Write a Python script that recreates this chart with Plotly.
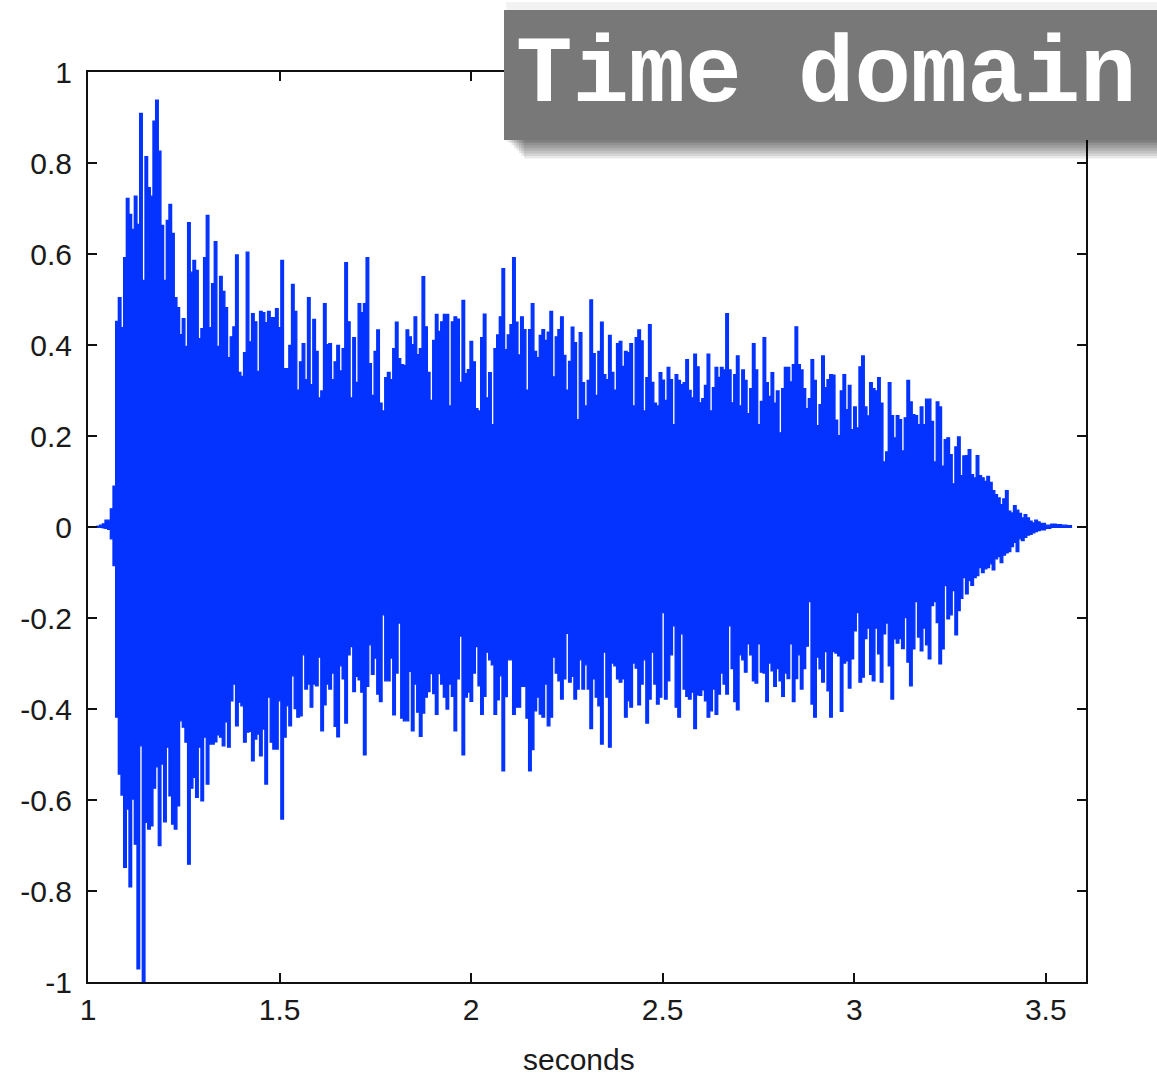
import numpy as np
import plotly.graph_objects as go

# ---------------- data ----------------
# Peak envelope of the waveform, one value per display bin.
BIN_START = 0.99571      # time of the first bin's left edge (s)
BIN_WIDTH = 0.006954     # bin width (s)

upper = [
    0.001, 0.001, 0.001, 0.001, 0.002, 0.004, 0.007, 0.015, 0.015, 0.040, 0.090,
    0.452, 0.504, 0.438, 0.592, 0.722, 0.687, 0.654, 0.727, 0.665, 0.909,
    0.542, 0.814, 0.746, 0.727, 0.892, 0.938, 0.826, 0.663, 0.542, 0.674,
    0.709, 0.645, 0.504, 0.482, 0.423, 0.458, 0.397, 0.669, 0.560, 0.586,
    0.564, 0.414, 0.436, 0.592, 0.685, 0.438, 0.535, 0.627, 0.397, 0.551,
    0.518, 0.482, 0.372, 0.418, 0.440, 0.598, 0.340, 0.331, 0.383, 0.604,
    0.407, 0.469, 0.451, 0.342, 0.474, 0.471, 0.449, 0.474, 0.460, 0.460,
    0.480, 0.438, 0.586, 0.348, 0.348, 0.399, 0.533, 0.474, 0.301, 0.363,
    0.403, 0.324, 0.504, 0.313, 0.456, 0.386, 0.284, 0.299, 0.491, 0.401,
    0.403, 0.324, 0.363, 0.399, 0.343, 0.392, 0.581, 0.451, 0.284, 0.416,
    0.318, 0.491, 0.471, 0.491, 0.592, 0.359, 0.289, 0.386, 0.433, 0.272,
    0.255, 0.328, 0.340, 0.324, 0.392, 0.450, 0.370, 0.357, 0.355, 0.433,
    0.418, 0.401, 0.462, 0.379, 0.392, 0.550, 0.440, 0.340, 0.278, 0.410,
    0.467, 0.430, 0.451, 0.467, 0.467, 0.266, 0.451, 0.462, 0.457, 0.318,
    0.498, 0.337, 0.346, 0.408, 0.363, 0.260, 0.255, 0.416, 0.468, 0.284,
    0.339, 0.225, 0.392, 0.422, 0.462, 0.568, 0.390, 0.422, 0.445, 0.592,
    0.450, 0.378, 0.462, 0.434, 0.301, 0.434, 0.491, 0.386, 0.372, 0.421,
    0.434, 0.410, 0.428, 0.474, 0.330, 0.418, 0.434, 0.462, 0.377, 0.301,
    0.364, 0.439, 0.405, 0.236, 0.427, 0.317, 0.266, 0.322, 0.499, 0.381,
    0.289, 0.386, 0.450, 0.335, 0.324, 0.421, 0.340, 0.301, 0.403, 0.408,
    0.353, 0.386, 0.383, 0.403, 0.266, 0.416, 0.433, 0.409, 0.255, 0.328,
    0.445, 0.318, 0.272, 0.266, 0.339, 0.323, 0.278, 0.351, 0.324, 0.225,
    0.335, 0.322, 0.313, 0.317, 0.368, 0.300, 0.284, 0.380, 0.352, 0.273,
    0.282, 0.311, 0.380, 0.255, 0.306, 0.351, 0.329, 0.351, 0.345, 0.469,
    0.345, 0.273, 0.335, 0.376, 0.266, 0.345, 0.322, 0.249, 0.304, 0.403,
    0.345, 0.225, 0.276, 0.416, 0.317, 0.287, 0.339, 0.272, 0.299, 0.207,
    0.304, 0.351, 0.351, 0.319, 0.357, 0.440, 0.357, 0.345, 0.304, 0.260,
    0.282, 0.368, 0.322, 0.223, 0.269, 0.376, 0.306, 0.324, 0.335, 0.334,
    0.235, 0.201, 0.299, 0.335, 0.258, 0.311, 0.214, 0.264, 0.218, 0.352,
    0.376, 0.264, 0.244, 0.317, 0.304, 0.299, 0.328, 0.272, 0.143, 0.165,
    0.317, 0.245, 0.196, 0.245, 0.236, 0.167, 0.240, 0.322, 0.275, 0.247,
    0.245, 0.225, 0.264, 0.225, 0.281, 0.281, 0.232, 0.143, 0.275, 0.264,
    0.134, 0.192, 0.196, 0.159, 0.095, 0.176, 0.198, 0.113, 0.156, 0.157,
    0.170, 0.115, 0.108, 0.157, 0.113, 0.108, 0.100, 0.111, 0.098, 0.080,
    0.071, 0.064, 0.049, 0.062, 0.080, 0.035, 0.031, 0.047, 0.037, 0.030,
    0.020, 0.027, 0.020, 0.013, 0.009, 0.015, 0.011, 0.008, 0.008, 0.004,
    0.004, 0.006, 0.006, 0.005, 0.005, 0.004, 0.004, 0.003, 0.003,
]

lower = [
    -0.001, -0.001, -0.001, -0.001, -0.001, -0.001, -0.002, -0.003, -0.005, -0.026, -0.085,
    -0.418, -0.543, -0.589, -0.748, -0.620, -0.791, -0.598, -0.697, -0.971, -0.481,
    -1.000, -0.649, -0.664, -0.657, -0.574, -0.527, -0.700, -0.521, -0.648, -0.484,
    -0.591, -0.653, -0.664, -0.613, -0.426, -0.440, -0.473, -0.741, -0.574, -0.550,
    -0.594, -0.484, -0.602, -0.462, -0.565, -0.477, -0.477, -0.472, -0.457, -0.462,
    -0.481, -0.428, -0.484, -0.382, -0.345, -0.437, -0.385, -0.393, -0.473, -0.451,
    -0.449, -0.514, -0.466, -0.455, -0.503, -0.444, -0.565, -0.374, -0.473, -0.488,
    -0.488, -0.382, -0.642, -0.462, -0.393, -0.437, -0.327, -0.399, -0.418, -0.415,
    -0.281, -0.356, -0.345, -0.396, -0.345, -0.349, -0.286, -0.448, -0.391, -0.345,
    -0.356, -0.321, -0.438, -0.461, -0.305, -0.334, -0.431, -0.281, -0.263, -0.362,
    -0.328, -0.336, -0.363, -0.501, -0.350, -0.259, -0.324, -0.288, -0.367, -0.384,
    -0.193, -0.338, -0.338, -0.288, -0.413, -0.321, -0.211, -0.420, -0.426, -0.426,
    -0.317, -0.448, -0.345, -0.407, -0.460, -0.409, -0.374, -0.362, -0.322, -0.366,
    -0.412, -0.322, -0.345, -0.374, -0.400, -0.345, -0.372, -0.448, -0.334, -0.240,
    -0.501, -0.374, -0.363, -0.383, -0.321, -0.263, -0.349, -0.412, -0.372, -0.275,
    -0.292, -0.303, -0.412, -0.380, -0.327, -0.536, -0.373, -0.292, -0.292, -0.412,
    -0.396, -0.396, -0.350, -0.350, -0.420, -0.536, -0.489, -0.404, -0.374, -0.411,
    -0.418, -0.345, -0.437, -0.418, -0.286, -0.321, -0.338, -0.378, -0.334, -0.234,
    -0.341, -0.328, -0.378, -0.356, -0.292, -0.356, -0.303, -0.356, -0.443, -0.334,
    -0.374, -0.393, -0.477, -0.275, -0.374, -0.484, -0.299, -0.305, -0.334, -0.341,
    -0.334, -0.418, -0.382, -0.396, -0.299, -0.310, -0.391, -0.345, -0.292, -0.431,
    -0.378, -0.275, -0.345, -0.389, -0.374, -0.188, -0.378, -0.338, -0.281, -0.217,
    -0.396, -0.418, -0.235, -0.356, -0.372, -0.378, -0.363, -0.443, -0.369, -0.370,
    -0.358, -0.382, -0.418, -0.404, -0.356, -0.412, -0.367, -0.321, -0.345, -0.367,
    -0.217, -0.311, -0.384, -0.402, -0.281, -0.292, -0.319, -0.257, -0.281, -0.338,
    -0.343, -0.257, -0.319, -0.321, -0.384, -0.299, -0.316, -0.350, -0.311, -0.338,
    -0.372, -0.321, -0.333, -0.257, -0.384, -0.333, -0.281, -0.356, -0.311, -0.262,
    -0.164, -0.389, -0.418, -0.286, -0.312, -0.341, -0.274, -0.360, -0.418, -0.274,
    -0.277, -0.283, -0.405, -0.299, -0.294, -0.354, -0.290, -0.228, -0.188, -0.341,
    -0.330, -0.245, -0.222, -0.324, -0.338, -0.222, -0.279, -0.341, -0.235, -0.211,
    -0.305, -0.378, -0.246, -0.255, -0.245, -0.267, -0.199, -0.297, -0.349, -0.268,
    -0.164, -0.242, -0.272, -0.222, -0.259, -0.290, -0.173, -0.164, -0.210, -0.301,
    -0.268, -0.129, -0.202, -0.193, -0.140, -0.237, -0.184, -0.157, -0.111, -0.147,
    -0.118, -0.128, -0.111, -0.107, -0.089, -0.100, -0.092, -0.089, -0.081, -0.094,
    -0.070, -0.065, -0.078, -0.062, -0.057, -0.054, -0.043, -0.034, -0.054, -0.026,
    -0.030, -0.023, -0.018, -0.016, -0.013, -0.010, -0.008, -0.006, -0.006, -0.003,
    -0.003, -0.001, -0.001, -0.001, -0.001, -0.001, -0.001, -0.001, -0.001,
]

x_tick_vals = [1, 1.5, 2, 2.5, 3, 3.5]
x_tick_text = ["1", "1.5", "2", "2.5", "3", "3.5"]
y_tick_vals = [-1, -0.8, -0.6, -0.4, -0.2, 0, 0.2, 0.4, 0.6, 0.8, 1]
y_tick_text = ["-1", "-0.8", "-0.6", "-0.4", "-0.2", "0", "0.2", "0.4", "0.6", "0.8", "1"]
x_range = [1, 3.605]
y_range = [-1, 1]
x_title = "seconds"
banner_text = "Time domain"

# ---------------- figure ----------------
W, H = 1157, 1077
ML, MR, MT, MB = 88, 71, 72, 95
BLUE = "#0433ff"
SANS = "Liberation Sans, Arial, sans-serif"


def step_xy(values):
    n = len(values)
    edges = BIN_START + BIN_WIDTH * np.arange(n + 1)
    yv = list(values) + [values[-1]]
    return edges, yv


fig = go.Figure()
for env in (upper, lower):
    ex, ey = step_xy(env)
    fig.add_trace(go.Scatter(
        x=ex, y=ey, mode="lines", line=dict(color=BLUE, width=1.3, shape="hv"),
        fill="tozeroy", fillcolor=BLUE, hoverinfo="skip", showlegend=False,
    ))

pw = W - ML - MR
ph = H - MT - MB


def px(xp):
    return (xp - ML) / pw


def py(yp):
    return (H - MB - yp) / ph


shapes = []
# soft drop shadow of the banner (mostly below it)
bx0, bx1, by0, by1 = 504, 1175, 10, 140
shapes.append(dict(
    type="rect", xref="paper", yref="paper", layer="above",
    x0=px(bx0 + 2), x1=px(bx1), y0=py(by1 + 2), y1=py(by0 - 8),
    line=dict(width=0), fillcolor="rgba(0,0,0,0.05)",
))
for j in range(7):
    shapes.append(dict(
        type="rect", xref="paper", yref="paper", layer="above",
        x0=px(bx0 + 5 + 2.5 * j), x1=px(bx1), y0=py(by1 + 3 + 2.6 * j), y1=py(by0 + 8),
        line=dict(width=0), fillcolor="rgba(0,0,0,0.085)",
    ))
shapes.append(dict(
    type="rect", xref="paper", yref="paper", layer="above",
    x0=px(bx0), x1=px(bx1), y0=py(by1), y1=py(by0),
    line=dict(width=0), fillcolor="#787878",
))

annotations = [
    dict(text=banner_text, xref="paper", yref="paper", x=px(514), y=py(76),
         xanchor="left", yanchor="middle", showarrow=False,
         font=dict(family="Courier New, Liberation Mono, monospace", size=94, color="white",
                   weight=600)),
    dict(text=x_title, xref="paper", yref="paper", x=px(579), y=py(1059),
         xanchor="center", yanchor="middle", showarrow=False,
         font=dict(family=SANS, size=30, color="#1a1a1a")),
]

axis_common = dict(
    showline=True, linecolor="#111111", linewidth=2, mirror="ticks",
    ticks="inside", ticklen=9, tickwidth=2, tickcolor="#111111",
    showgrid=False, zeroline=False,
    tickfont=dict(family=SANS, size=30, color="#1a1a1a"),
)

fig.update_layout(
    width=W, height=H, margin=dict(l=ML, r=MR, t=MT, b=MB, pad=0),
    paper_bgcolor="white", plot_bgcolor="white",
    xaxis=dict(range=x_range, tickmode="array", tickvals=x_tick_vals, ticktext=x_tick_text,
               ticklabelstandoff=0, **axis_common),
    yaxis=dict(range=y_range, tickmode="array", tickvals=y_tick_vals, ticktext=y_tick_text,
               ticklabelstandoff=8, **axis_common),
    shapes=shapes, annotations=annotations, showlegend=False,
)

fig.write_html("out.html")
